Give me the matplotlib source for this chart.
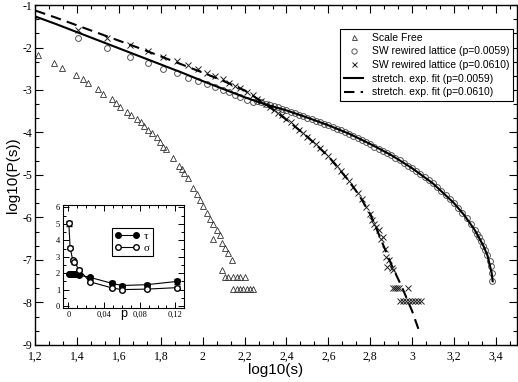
import matplotlib
matplotlib.use('Agg')
from matplotlib import pyplot as plt
from matplotlib.lines import Line2D
from matplotlib.ticker import AutoMinorLocator, FixedLocator, FixedFormatter

plt.rcParams['font.family'] = 'Liberation Serif'
SANS = 'Liberation Sans'

# scale free network (triangles)
sf_x = [1.211, 1.291, 1.329, 1.394, 1.426, 1.453, 1.498, 1.525, 1.565, 1.585, 1.604,
        1.636, 1.657, 1.684, 1.705, 1.72, 1.74, 1.756, 1.78, 1.796, 1.811, 1.823,
        1.859, 1.886, 1.899, 1.912, 1.931, 1.955, 1.971, 1.987, 2.002, 2.019, 2.034,
        2.05, 2.066, 2.082, 2.05, 2.09, 2.106, 2.122, 2.138, 2.09,
        2.106, 2.122, 2.146, 2.162, 2.178, 2.202,
        2.146, 2.162, 2.178, 2.194, 2.21, 2.226, 2.242]
sf_y = [-2.18, -2.37, -2.49, -2.65, -2.74, -2.83, -2.98, -3.09, -3.22, -3.31, -3.41,
        -3.51, -3.59, -3.68, -3.76, -3.84, -3.94, -4.02, -4.11, -4.22, -4.33, -4.40,
        -4.61, -4.78, -4.87, -4.95, -5.08, -5.31, -5.45, -5.60, -5.74, -5.90, -6.04,
        -6.16, -6.30, -6.42, -6.50, -6.60, -6.72, -6.84, -7.00, -7.24,
        -7.41, -7.41, -7.41, -7.41, -7.41, -7.41,
        -7.69, -7.69, -7.69, -7.69, -7.69, -7.69, -7.69]

# SW rewired lattice p=0.0059 (circles)
c_x = [1.19, 1.402, 1.544, 1.652, 1.74, 1.811, 1.875, 1.931, 1.978, 2.019, 2.058,
       2.095, 2.126, 2.153, 2.18, 2.21, 2.24,
       2.26, 2.28, 2.30, 2.32, 2.34, 2.36, 2.38, 2.40, 2.42, 2.44, 2.46, 2.48, 2.50,
       2.52, 2.54, 2.56, 2.58, 2.60, 2.62, 2.64, 2.66, 2.68, 2.70, 2.72, 2.74, 2.76,
       2.78, 2.80, 2.82, 2.84, 2.86, 2.88, 2.90, 2.92, 2.94, 2.96, 2.98, 3.00, 3.02,
       3.04, 3.06, 3.08, 3.10, 3.12, 3.14, 3.16, 3.18, 3.20, 3.22, 3.24, 3.26, 3.28,
       3.30, 3.31, 3.32, 3.33, 3.34, 3.35, 3.36, 3.37, 3.375, 3.38, 3.383]
c_y = [-1.30, -1.77, -2.02, -2.22, -2.37, -2.51, -2.61, -2.71, -2.79, -2.87, -2.94,
       -3.00, -3.05, -3.12, -3.17, -3.24, -3.29,
       -3.26, -3.29, -3.32, -3.35, -3.38, -3.41, -3.44, -3.47, -3.51, -3.54, -3.58,
       -3.61, -3.65, -3.68, -3.72, -3.75, -3.79, -3.83, -3.87, -3.91, -3.95, -4.00,
       -4.04, -4.09, -4.13, -4.18, -4.23, -4.28, -4.33, -4.38, -4.43, -4.48, -4.54,
       -4.60, -4.65, -4.71, -4.78, -4.84, -4.91, -4.98, -5.05, -5.12, -5.20, -5.28,
       -5.37, -5.46, -5.56, -5.66, -5.77, -5.89, -6.02, -6.15, -6.30, -6.38, -6.47,
       -6.56, -6.66, -6.77, -6.89, -7.03, -7.15, -7.30, -7.49]

# SW rewired lattice p=0.0610 (crosses)
x_x = [1.402, 1.544, 1.652, 1.74, 1.811, 1.875, 1.931, 1.978, 2.019, 2.058, 2.095,
       2.126, 2.153, 2.18, 2.21, 2.24,
       2.26, 2.28, 2.30, 2.32, 2.34, 2.36, 2.38, 2.40, 2.42, 2.44, 2.46, 2.48, 2.50,
       2.52, 2.54, 2.56, 2.58, 2.60, 2.62, 2.64, 2.66, 2.68, 2.70, 2.72, 2.74, 2.76,
       2.78, 2.80, 2.81, 2.82, 2.83, 2.84, 2.85, 2.86, 2.87, 2.875, 2.89, 2.88,
       2.905, 2.91,
       2.908, 2.918, 2.928, 2.938, 2.98,
       2.94, 2.955, 2.97, 2.985, 3.0, 3.015, 3.03, 3.043]
x_y = [-1.59, -1.78, -1.94, -2.08, -2.22, -2.32, -2.41, -2.51, -2.59, -2.67, -2.74,
       -2.83, -2.90, -2.96, -3.04, -3.12,
       -3.22, -3.27, -3.33, -3.39, -3.46, -3.53, -3.60, -3.68, -3.76, -3.84, -3.93,
       -4.01, -4.10, -4.19, -4.28, -4.37, -4.47, -4.56, -4.67, -4.79, -4.91, -5.03,
       -5.15, -5.29, -5.43, -5.57, -5.75, -5.92, -6.05, -6.15, -6.22, -6.30, -6.50,
       -6.45, -6.75, -6.92, -7.00, -7.16, -7.20, -7.24,
       -7.67, -7.67, -7.67, -7.67, -7.67,
       -7.96, -7.96, -7.96, -7.96, -7.96, -7.96, -7.96, -7.96]

# stretched exponential fits
fit1_x = [1.2, 1.3, 1.4, 1.5, 1.6, 1.7, 1.8, 1.9, 2.0, 2.1, 2.2, 2.3, 2.4, 2.5, 2.6,
          2.7, 2.8, 2.9, 3.0, 3.1, 3.2, 3.25, 3.3, 3.34, 3.36, 3.38, 3.385]
fit1_y = [-1.27, -1.45, -1.64, -1.83, -2.02, -2.21, -2.40, -2.59, -2.79, -2.98, -3.17,
          -3.34, -3.48, -3.65, -3.83, -4.03, -4.27, -4.53, -4.84, -5.20, -5.66, -5.95,
          -6.30, -6.66, -6.89, -7.30, -7.50]
fit2_x = [1.2, 1.3, 1.4, 1.5, 1.6, 1.7, 1.8, 1.9, 2.0, 2.1, 2.2, 2.3, 2.4, 2.5, 2.6,
          2.7, 2.75, 2.8, 2.85, 2.9, 2.95, 3.0, 3.03]
fit2_y = [-1.13, -1.30, -1.48, -1.66, -1.84, -2.02, -2.21, -2.40, -2.59, -2.79, -3.01,
          -3.33, -3.70, -4.10, -4.56, -5.15, -5.50, -5.92, -6.50, -7.10, -7.62, -8.20,
          -8.62]

# inset: exponents vs p
p_tau = [0.0005, 0.002, 0.003, 0.004, 0.005, 0.0059, 0.008, 0.012, 0.024, 0.049, 0.06, 0.088, 0.122]
tau = [1.98, 1.97, 1.96, 1.95, 1.95, 1.94, 1.93, 1.88, 1.75, 1.38, 1.25, 1.30, 1.50]
tau_err = [0.05, 0.05, 0.05, 0.05, 0.05, 0.05, 0.05, 0.05, 0.08, 0.12, 0.12, 0.12, 0.15]
p_sig = [0.0005, 0.002, 0.005, 0.0065, 0.012, 0.024, 0.049, 0.06, 0.088, 0.122]
sigma = [5.05, 3.55, 2.78, 2.68, 2.22, 1.48, 1.10, 1.00, 1.03, 1.12]
sig_err = [0.15, 0.1, 0.1, 0.1, 0.1, 0.08, 0.08, 0.08, 0.08, 0.08]

xticks = [1.2, 1.4, 1.6, 1.8, 2.0, 2.2, 2.4, 2.6, 2.8, 3.0, 3.2, 3.4]
xlabels = ['1,2', '1,4', '1,6', '1,8', '2', '2,2', '2,4', '2,6', '2,8', '3', '3,2', '3,4']
yticks = [-9, -8, -7, -6, -5, -4, -3, -2, -1]
ylabels = ['-9', '-8', '-7', '-6', '-5', '-4', '-3', '-2', '-1']
in_xticks = [0, 0.04, 0.08, 0.12]
in_xlabels = ['0', '0,04', '0,08', '0,12']

fig = plt.figure(figsize=(5.18, 3.82), dpi=100)
ax = fig.add_axes([0.0681, 0.0969, 0.9295, 0.890])

ax.plot(sf_x, sf_y, linestyle='none', marker='^', ms=4, mfc='none', mec='#333333',
        mew=0.6, label='Scale Free')
ax.plot(c_x, c_y, linestyle='none', marker='o', ms=4.2, mfc='none', mec='#555555',
        mew=0.7, label='SW rewired lattice (p=0.0059)')
ax.plot(x_x, x_y, linestyle='none', marker='x', ms=4, color='#222222', mew=0.7,
        label='SW rewired lattice (p=0.0610)')
ax.plot(fit1_x, fit1_y, color='black', lw=1.5, label='stretch. exp. fit (p=0.0059)')
ax.plot(fit2_x, fit2_y, color='black', lw=1.5, linestyle=(0, (5, 3)),
        label='stretch. exp. fit (p=0.0610)')

ax.set_xlim(1.2, 3.5)
ax.set_ylim(-9, -1)
ax.xaxis.set_major_locator(FixedLocator(xticks))
ax.xaxis.set_major_formatter(FixedFormatter(xlabels))
ax.yaxis.set_major_locator(FixedLocator(yticks))
ax.yaxis.set_major_formatter(FixedFormatter(ylabels))
ax.xaxis.set_minor_locator(AutoMinorLocator(3))
ax.yaxis.set_minor_locator(AutoMinorLocator(3))
ax.tick_params(which='both', direction='in', top=True, right=True, labelsize=8.5, width=0.8)
ax.tick_params(which='major', length=6)
ax.tick_params(which='minor', length=3)
ax.tick_params(axis='x', pad=4)
ax.tick_params(axis='y', pad=2)
for s in ax.spines.values():
    s.set_linewidth(1.0)

ax.set_xlabel('log10(s)', family=SANS, fontsize=11, labelpad=0)
ax.set_ylabel('log10(P(s))', family=SANS, fontsize=11, labelpad=2)

leg = ax.legend(loc='upper right', bbox_to_anchor=(0.992, 0.929), borderaxespad=0,
                fancybox=False, edgecolor='black', framealpha=1, numpoints=1,
                prop={'family': SANS, 'size': 7.5}, handlelength=1.9,
                handletextpad=0.8, labelspacing=0.35, borderpad=0.35, markerscale=0.9)
leg.get_frame().set_linewidth(0.8)

# inset
ins = fig.add_axes([0.1216, 0.1937, 0.2342, 0.2696])
ins.errorbar(p_tau, tau, yerr=tau_err, color='black', lw=0.8, marker='o', ms=4,
             mfc='black', mec='black', capsize=2, elinewidth=0.7)
ins.errorbar(p_sig, sigma, yerr=sig_err, color='black', lw=0.8, marker='o', ms=4,
             mfc='white', mec='black', capsize=2, elinewidth=0.7)
ins.set_xlim(-0.006, 0.130)
ins.set_ylim(-0.12, 6.15)
ins.xaxis.set_major_locator(FixedLocator(in_xticks))
ins.xaxis.set_major_formatter(FixedFormatter(in_xlabels))
ins.set_yticks([0, 1, 2, 3, 4, 5, 6])
ins.xaxis.set_minor_locator(AutoMinorLocator(4))
ins.yaxis.set_minor_locator(AutoMinorLocator(2))
ins.tick_params(which='both', direction='in', top=True, right=True, labelsize=6, width=0.7, pad=2)
ins.tick_params(which='major', length=4)
ins.tick_params(which='minor', length=2)
for s in ins.spines.values():
    s.set_linewidth(0.8)
ins.set_xlabel('p', family=SANS, fontsize=9, labelpad=-8)

h_tau = Line2D([], [], color='black', lw=0.8, marker='o', ms=4, mfc='black', mec='black')
h_sig = Line2D([], [], color='black', lw=0.8, marker='o', ms=4, mfc='white', mec='black')
ileg = ins.legend([h_tau, h_sig], ['τ', 'σ'], loc='upper right',
                  bbox_to_anchor=(0.744, 0.777), borderaxespad=0,
                  fancybox=False, edgecolor='black', framealpha=1, numpoints=2,
                  prop={'size': 8}, handlelength=2.2, handletextpad=0.4,
                  labelspacing=0.2, borderpad=0.3)
ileg.get_frame().set_linewidth(0.8)

fig.savefig('out.png', dpi=100)
